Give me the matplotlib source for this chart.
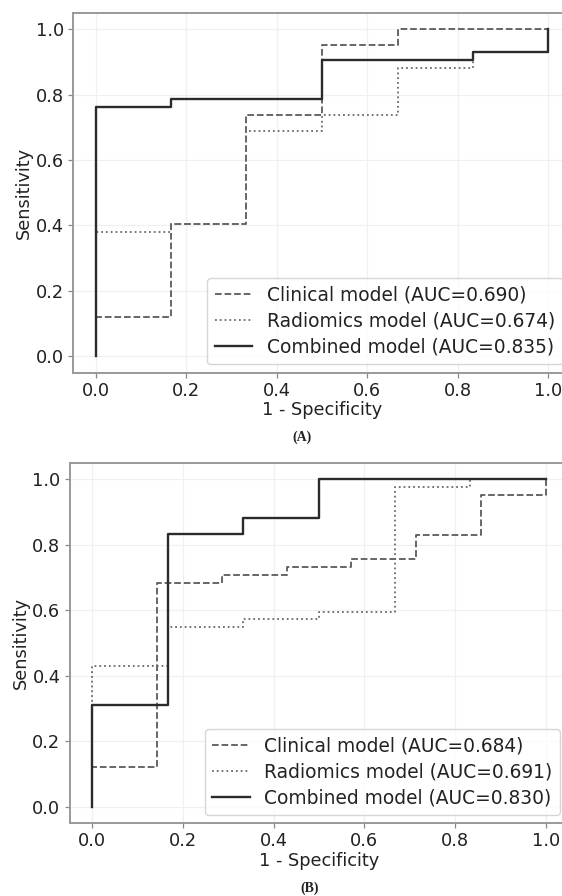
import matplotlib
matplotlib.use("Agg")
import matplotlib.pyplot as plt

# panel A: training set ROC steps (1 - specificity, sensitivity)
fpr_clin_a = [0.0, 0.0, 0.167, 0.167, 0.333, 0.333, 0.5, 0.5, 0.667, 0.667, 1.0]
tpr_clin_a = [0.0, 0.119, 0.119, 0.405, 0.405, 0.738, 0.738, 0.952, 0.952, 1.0, 1.0]
fpr_rad_a = [0.0, 0.0, 0.167, 0.167, 0.333, 0.333, 0.5, 0.5, 0.667, 0.667, 0.833, 0.833, 1.0, 1.0]
tpr_rad_a = [0.0, 0.381, 0.381, 0.405, 0.405, 0.690, 0.690, 0.738, 0.738, 0.881, 0.881, 0.929, 0.929, 1.0]
fpr_comb_a = [0.0, 0.0, 0.167, 0.167, 0.5, 0.5, 0.833, 0.833, 1.0, 1.0]
tpr_comb_a = [0.0, 0.762, 0.762, 0.786, 0.786, 0.905, 0.905, 0.929, 0.929, 1.0]
auc_a = [0.690, 0.674, 0.835]

# panel B: validation set
fpr_clin_b = [0.0, 0.0, 0.143, 0.143, 0.286, 0.286, 0.429, 0.429, 0.571, 0.571, 0.714, 0.714, 0.857, 0.857, 1.0, 1.0]
tpr_clin_b = [0.0, 0.122, 0.122, 0.683, 0.683, 0.707, 0.707, 0.732, 0.732, 0.756, 0.756, 0.829, 0.829, 0.951, 0.951, 1.0]
fpr_rad_b = [0.0, 0.0, 0.167, 0.167, 0.333, 0.333, 0.5, 0.5, 0.667, 0.667, 0.833, 0.833, 1.0]
tpr_rad_b = [0.0, 0.430, 0.430, 0.548, 0.548, 0.572, 0.572, 0.595, 0.595, 0.976, 0.976, 1.0, 1.0]
fpr_comb_b = [0.0, 0.0, 0.167, 0.167, 0.333, 0.333, 0.5, 0.5, 1.0]
tpr_comb_b = [0.0, 0.310, 0.310, 0.833, 0.833, 0.880, 0.880, 1.0, 1.0]
auc_b = [0.684, 0.691, 0.830]

names = ['Clinical model', 'Radiomics model', 'Combined model']
FS = 12.8
LEG_FS = 13.4
W, H = 562, 896


def draw(ax, curves, aucs):
    styles = [dict(color='#5a5a5a', linestyle='--', linewidth=1.3),
              dict(color='#6a6a6a', linestyle=':', linewidth=1.3),
              dict(color='#2b2b2b', linestyle='-', linewidth=1.7)]
    for (x, y), name, auc, st in zip(curves, names, aucs, styles):
        ax.plot(x, y, label='%s (AUC=%.3f)' % (name, auc), **st)
    ax.set_xlim(-0.05, 1.05)
    ax.set_ylim(-0.05, 1.05)
    ax.set_xticks([0, 0.2, 0.4, 0.6, 0.8, 1.0])
    ax.set_yticks([0, 0.2, 0.4, 0.6, 0.8, 1.0])
    ax.grid(True, color='#f0f0f0', linewidth=0.9)
    ax.set_axisbelow(True)
    for s in ax.spines.values():
        s.set_color('#999999')
        s.set_linewidth(1.4)
    ax.tick_params(labelsize=FS, colors='#888888', labelcolor='#222222', length=3.5, width=0.9, pad=3)
    ax.set_xlabel('1 - Specificity', fontsize=FS, color='#222222', labelpad=1)
    ax.set_ylabel('Sensitivity', fontsize=FS, color='#222222', labelpad=2)
    leg = ax.legend(loc='lower right', fontsize=LEG_FS, framealpha=0.8, borderaxespad=0.45,
                    labelspacing=0.38)
    for t in leg.get_texts():
        t.set_color('#222222')


fig = plt.figure(figsize=(W / 100, H / 100), dpi=100)
# axes extend past the right edge, as in the cropped original
ax_a = fig.add_axes([73 / W, (H - 372.7) / H, 498 / W, 360 / H])
ax_b = fig.add_axes([69.5 / W, (H - 823.3) / H, 499 / W, 360.6 / H])

draw(ax_a, [(fpr_clin_a, tpr_clin_a), (fpr_rad_a, tpr_rad_a), (fpr_comb_a, tpr_comb_a)], auc_a)
draw(ax_b, [(fpr_clin_b, tpr_clin_b), (fpr_rad_b, tpr_rad_b), (fpr_comb_b, tpr_comb_b)], auc_b)

fig.text(302 / W, 1 - 437 / H, '(A)', ha='center', va='center', fontsize=10,
         fontweight='bold', family='Liberation Serif', color='#222222')
fig.text(310 / W, 1 - 888 / H, '(B)', ha='center', va='center', fontsize=10,
         fontweight='bold', family='Liberation Serif', color='#222222')

fig.savefig('out.png', dpi=100)
